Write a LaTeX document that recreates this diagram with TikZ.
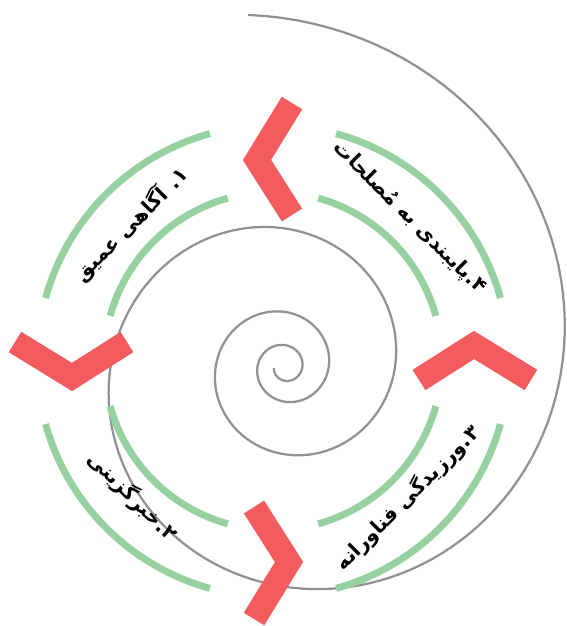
\documentclass[tikz,border=0pt]{standalone}
\usepackage{fontspec}
\newfontfamily\arabicfont[Script=Arabic]{DejaVu Sans}
\TeXXeTstate=1
\definecolor{ringgreen}{RGB}{151,209,162}
\definecolor{turnred}{RGB}{242,92,94}
\definecolor{spiralgray}{RGB}{145,145,150}

\begin{document}
\begin{tikzpicture}[x=0.02cm, y=0.02cm,
  ring/.style={ringgreen, line width=0.14cm},
  turn/.style={turnred, line width=0.48cm, miter limit=4},
  spiral/.style={spiralgray, line width=0.045cm, line join=round},
  stage/.style={font=\arabicfont\bfseries\fontsize{11.5pt}{14pt}\selectfont, inner sep=0pt}]
   \useasboundingbox (-273,-265) rectangle (294,361);

   % growing spiral
   \draw[spiral] plot[domain=186:1536, samples=500, variable=\t]
      ({12+354*exp(0.0025656*(\t-1536))*cos(\t)}, {-6+354*exp(0.0025656*(\t-1536))*sin(\t)});

   % green rings, inner and outer
   \foreach \a in {45,135,225,315} {
      \draw[ring] (\a-29.5:236) arc[start angle=\a-29.5, end angle=\a+29.5, radius=236];
      \draw[ring] (\a-29.5:169) arc[start angle=\a-29.5, end angle=\a+29.5, radius=169];
   }

   % red turning marks
   \foreach \r in {0,90,180,270}
      \draw[turn, rotate=\r] (19,258) -- (-16,201) -- (19,146);

   % stages
   \node[stage, rotate=45] (s1) at (136:197) {\beginR ۱. آگاهی عمیق\endR};
   \node[stage, rotate=-45] (s2) at (-136:195) {\beginR ۲.خبرگزینی\endR};
   \node[stage, rotate=45] (s3) at (-45.6:192) {\beginR ۳.ورزیدگی فناورانه\endR};
   \node[stage, rotate=-45] (s4) at (46.4:198) {\beginR ۴.پایبندی به مُصلحات\endR};
\end{tikzpicture}
\end{document}
